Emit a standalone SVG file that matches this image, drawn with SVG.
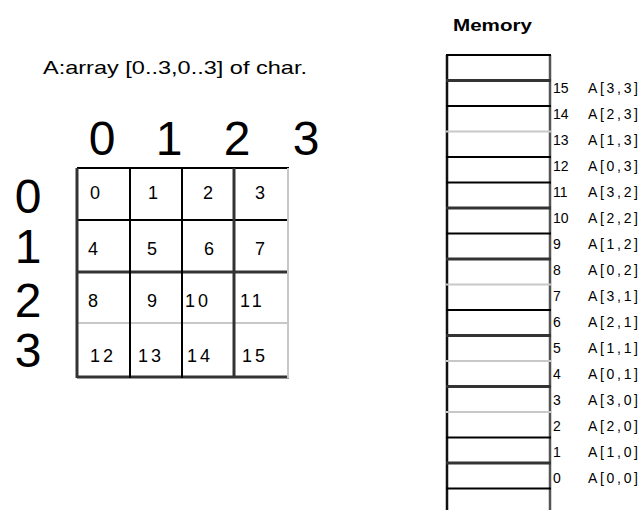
<svg xmlns="http://www.w3.org/2000/svg" width="641" height="510" viewBox="0 0 641 510">
<style>
text{font-family:"Liberation Sans",Arial,sans-serif;fill:#000}
.big{font-size:48px;text-anchor:middle}
.cell{font-size:18px}
.two{letter-spacing:3px}
.lbl{font-size:14px}
.k{stroke:#000;stroke-width:2}
.d{stroke:#333;stroke-width:3}
.l{stroke:#c8c8c8;stroke-width:2}
</style>
<rect width="641" height="510" fill="#fff"/>
<g id="title"><text x="43" y="74" font-size="19" textLength="264" lengthAdjust="spacingAndGlyphs">A:array [0..3,0..3] of char.</text></g>
<g id="col-headers">
<text class="big" x="102" y="155">0</text>
<text class="big" x="169" y="155">1</text>
<text class="big" x="237" y="155">2</text>
<text class="big" x="306" y="155">3</text>
</g>
<g id="row-headers">
<text class="big" x="28" y="213">0</text>
<text class="big" x="28" y="263">1</text>
<text class="big" x="28" y="317">2</text>
<text class="big" x="28" y="367">3</text>
</g>
<g id="grid">
<line class="k" x1="77" y1="168" x2="289" y2="168"/>
<line class="k" x1="77" y1="220" x2="289" y2="220"/>
<line class="d" x1="77" y1="272" x2="289" y2="272"/>
<line class="l" x1="77" y1="323" x2="289" y2="323"/>
<line class="d" x1="77" y1="377" x2="289" y2="377"/>
<line class="d" x1="77" y1="168" x2="77" y2="378"/>
<line class="k" x1="130" y1="168" x2="130" y2="378"/>
<line class="k" x1="182" y1="168" x2="182" y2="378"/>
<line class="d" x1="234" y1="168" x2="234" y2="378"/>
<line class="l" x1="288" y1="168" x2="288" y2="378"/>
</g>
<g id="cells">
<text class="cell" x="90" y="199">0</text>
<text class="cell" x="148" y="199">1</text>
<text class="cell" x="203" y="199">2</text>
<text class="cell" x="255" y="199">3</text>
<text class="cell" x="88" y="255">4</text>
<text class="cell" x="147" y="255">5</text>
<text class="cell" x="204" y="255">6</text>
<text class="cell" x="255" y="255">7</text>
<text class="cell" x="88" y="307">8</text>
<text class="cell" x="147" y="307">9</text>
<text class="cell two" x="185" y="307">10</text>
<text class="cell two" x="240" y="307">11</text>
<text class="cell two" x="90" y="362">12</text>
<text class="cell two" x="138" y="362">13</text>
<text class="cell two" x="187" y="362">14</text>
<text class="cell two" x="242" y="362">15</text>
</g>
<g id="memory-title"><text x="453" y="31" font-size="17" font-weight="bold" textLength="79" lengthAdjust="spacingAndGlyphs">Memory</text></g>
<g id="memory">
<line x1="447" y1="55" x2="447" y2="510" stroke="#111" stroke-width="2.5"/>
<line x1="550" y1="55" x2="550" y2="510" stroke="#555" stroke-width="2.5"/>
<line class="k" x1="446" y1="55" x2="551" y2="55"/>
<line class="d" x1="446" y1="80.5" x2="551" y2="80.5"/>
<line class="k" x1="446" y1="106" x2="551" y2="106"/>
<line class="l" x1="446" y1="131.5" x2="551" y2="131.5"/>
<line class="k" x1="446" y1="157" x2="551" y2="157"/>
<line class="k" x1="446" y1="182.5" x2="551" y2="182.5"/>
<line class="d" x1="446" y1="208" x2="551" y2="208"/>
<line class="k" x1="446" y1="233.5" x2="551" y2="233.5"/>
<line class="d" x1="446" y1="259" x2="551" y2="259"/>
<line class="l" x1="446" y1="284.5" x2="551" y2="284.5"/>
<line class="k" x1="446" y1="310" x2="551" y2="310"/>
<line class="d" x1="446" y1="335.5" x2="551" y2="335.5"/>
<line class="l" x1="446" y1="361" x2="551" y2="361"/>
<line class="d" x1="446" y1="386.5" x2="551" y2="386.5"/>
<line class="l" x1="446" y1="412" x2="551" y2="412"/>
<line class="k" x1="446" y1="437.5" x2="551" y2="437.5"/>
<line class="d" x1="446" y1="463" x2="551" y2="463"/>
<line class="k" x1="446" y1="488.5" x2="551" y2="488.5"/>
</g>
<g id="memory-labels">
<text class="lbl" x="553" y="93">15</text><text class="lbl" x="588" y="93" textLength="50">A[3,3]</text>
<text class="lbl" x="553" y="119">14</text><text class="lbl" x="588" y="119" textLength="50">A[2,3]</text>
<text class="lbl" x="553" y="145">13</text><text class="lbl" x="588" y="145" textLength="50">A[1,3]</text>
<text class="lbl" x="553" y="171">12</text><text class="lbl" x="588" y="171" textLength="50">A[0,3]</text>
<text class="lbl" x="553" y="197">11</text><text class="lbl" x="588" y="197" textLength="50">A[3,2]</text>
<text class="lbl" x="553" y="223">10</text><text class="lbl" x="588" y="223" textLength="50">A[2,2]</text>
<text class="lbl" x="553" y="249">9</text><text class="lbl" x="588" y="249" textLength="50">A[1,2]</text>
<text class="lbl" x="553" y="275">8</text><text class="lbl" x="588" y="275" textLength="50">A[0,2]</text>
<text class="lbl" x="553" y="301">7</text><text class="lbl" x="588" y="301" textLength="50">A[3,1]</text>
<text class="lbl" x="553" y="327">6</text><text class="lbl" x="588" y="327" textLength="50">A[2,1]</text>
<text class="lbl" x="553" y="353">5</text><text class="lbl" x="588" y="353" textLength="50">A[1,1]</text>
<text class="lbl" x="553" y="379">4</text><text class="lbl" x="588" y="379" textLength="50">A[0,1]</text>
<text class="lbl" x="553" y="405">3</text><text class="lbl" x="588" y="405" textLength="50">A[3,0]</text>
<text class="lbl" x="553" y="431">2</text><text class="lbl" x="588" y="431" textLength="50">A[2,0]</text>
<text class="lbl" x="553" y="457">1</text><text class="lbl" x="588" y="457" textLength="50">A[1,0]</text>
<text class="lbl" x="553" y="483">0</text><text class="lbl" x="588" y="483" textLength="50">A[0,0]</text>
</g>
</svg>
